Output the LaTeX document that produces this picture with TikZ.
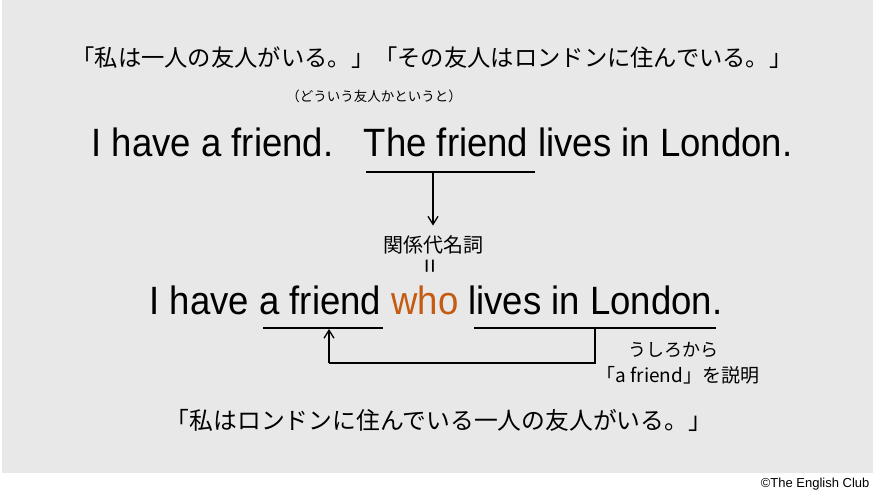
\documentclass[tikz,border=0pt]{standalone}
\usepackage{fontspec}
\setmainfont{Liberation Sans}
\newfontfamily\enfont[FakeStretch=0.925]{Liberation Sans}
\newfontfamily\jpfont{Noto Sans CJK JP}
\usepackage{xcolor}
\colorlet{BGCOLOR}{black!9}
\definecolor{WHOCOLOR}{HTML}{C55A11}
\usepackage{tikz}
\usetikzlibrary{positioning,arrows.meta}
\tikzset{
  jp-style/.style = {
    font=\jpfont\fontsize{#1}{#1}\selectfont,
    inner sep=0pt
  },
  en-style/.style = {
    font=\enfont\fontsize{39.5}{39.5}\selectfont,
    inner sep=0pt, anchor=base
  },
  line-style/.style = {
    draw, line width=1.3pt
  },
  every edge/.style = {draw, -{Straight Barb[length=8pt,width=10pt,line width=1.3pt]}, line width=1.3pt}
}
\newcommand\whoWord[1]{\textcolor{WHOCOLOR}{#1}}

\begin{document}
\begin{tikzpicture}[x=1pt,y=-1pt]
  \path[fill=BGCOLOR] (2,0) rectangle (873,473);
  \useasboundingbox (0,0) rectangle (881,500);

  % two sentences
  \node[jp-style=23.3] (jpone) at (432,58) {「私は一人の友人がいる。」「その友人はロンドンに住んでいる。」};
  \node[jp-style=13.5] (how) at (374,96) {（どういう友人かというと）};
  \node[en-style] (sentone) at (442,157) {I have a friend.\ \ \ The friend lives in London.};

  \coordinate (thel) at (366,172);
  \coordinate (ther) at (535,172);
  \coordinate (thedown) at (433,172);
  \draw[line-style] (thel) -- (ther);

  \node[jp-style=20] (kankei) at (433,245) {関係代名詞};
  \node[font=\fontsize{25}{25}\selectfont, inner sep=0pt, rotate=90] (equal) at (432,266) {=};
  \path (thedown) edge ([yshift=10pt]kankei.north -| thedown);

  % joined sentence
  \node[en-style] (senttwo) at (436,314) {I have a friend \whoWord{who} lives in London.};

  \coordinate (afl) at (263,328);
  \coordinate (afr) at (383,328);
  \coordinate (livl) at (474,328);
  \coordinate (livr) at (716,328);
  \coordinate (livdown) at (595,328);
  \coordinate (afup) at (329,328);
  \coordinate (corner) at (329,363);
  \draw[line-style] (afl) -- (afr);
  \draw[line-style] (livl) -- (livr);
  \draw[line-style] (livdown) |- (corner);
  \path (corner) edge ([yshift=-1pt]afup);

  \node[jp-style=18] (ushiro) at (673,350) {うしろから};
  \node[jp-style=19] (setsumei) at (678,375) {「a friend」を説明};

  \node[jp-style=23.8] (jptwo) at (439,420) {「私はロンドンに住んでいる一人の友人がいる。」};
  \node[anchor=east, font=\fontsize{13}{13}\selectfont] (club) at (873,484) {©The English Club};
\end{tikzpicture}
\end{document}
